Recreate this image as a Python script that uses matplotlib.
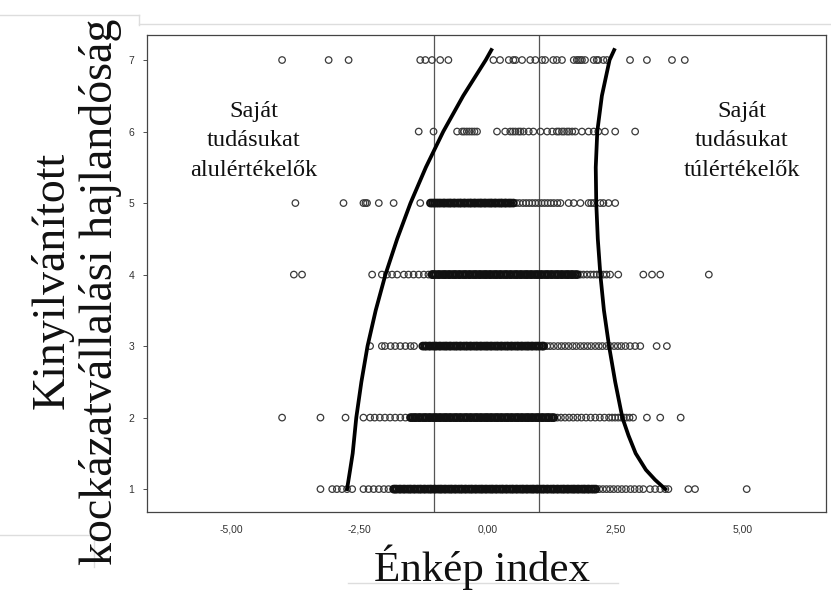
import numpy as np
import matplotlib
matplotlib.use("Agg")
import matplotlib.pyplot as plt
from matplotlib.lines import Line2D

# risk-taking level (y) vs self-image index (x), one list of cases per level
levels = [1, 2, 3, 4, 5, 6, 7]

row1 = [-3.26, -3.03, -2.94, -2.84, -2.74, -2.64, -2.42, -2.32, -2.22, -2.12, -2.02, -1.93, -1.83,
        -1.80, -1.77, -1.72, -1.69, -1.64, -1.61, -1.56, -1.52, -1.49, -1.44, -1.41, -1.36,
        -1.32, -1.29, -1.24, -1.21, -1.16, -1.12, -1.09, -1.04, -1.01, -0.96, -0.92, -0.89,
        -0.84, -0.81, -0.76, -0.72, -0.69, -0.64, -0.61, -0.56, -0.52, -0.49, -0.44, -0.41,
        -0.36, -0.32, -0.29, -0.24, -0.21, -0.16, -0.12, -0.09, -0.04, -0.01, 0.04, 0.08, 0.11,
        0.16, 0.19, 0.24, 0.28, 0.31, 0.36, 0.39, 0.44, 0.48, 0.51, 0.56, 0.59, 0.64, 0.68,
        0.71, 0.76, 0.79, 0.84, 0.88, 0.91, 0.96, 0.99, 1.04, 1.08, 1.11, 1.16, 1.19, 1.24,
        1.28, 1.31, 1.36, 1.39, 1.44, 1.48, 1.51, 1.56, 1.59, 1.64, 1.68, 1.71, 1.76, 1.79,
        1.84, 1.88, 1.91, 1.96, 1.99, 2.04, 2.08, 2.12,
        2.19, 2.26, 2.33, 2.40, 2.47, 2.55, 2.63, 2.71, 2.80, 2.88, 2.97, 3.05,
        3.18, 3.28, 3.38, 3.48, 3.54, 3.93, 4.06, 5.07]

row2 = [-4.01, -3.26, -2.77, -2.42, -2.29, -2.20, -2.10, -2.00, -1.90, -1.80, -1.70, -1.60, -1.50,
        -1.46, -1.42, -1.39, -1.34, -1.31, -1.26, -1.22, -1.19, -1.14, -1.11, -1.06, -1.02,
        -0.99, -0.94, -0.91, -0.86, -0.82, -0.79, -0.74, -0.71, -0.66, -0.62, -0.59, -0.54,
        -0.51, -0.46, -0.42, -0.39, -0.34, -0.31, -0.26, -0.22, -0.19, -0.14, -0.11, -0.06,
        -0.02, 0.01, 0.06, 0.09, 0.14, 0.18, 0.21, 0.26, 0.29, 0.34, 0.38, 0.41, 0.46, 0.49,
        0.54, 0.58, 0.61, 0.66, 0.69, 0.74, 0.78, 0.81, 0.86, 0.89, 0.94, 0.98, 1.01, 1.06,
        1.09, 1.14, 1.18, 1.21, 1.26, 1.30,
        1.37, 1.44, 1.52, 1.60, 1.68, 1.76, 1.84, 1.93, 2.02, 2.11, 2.20, 2.29, 2.38, 2.44,
        2.50, 2.56, 2.62, 2.67, 2.72, 2.78, 2.85, 3.12, 3.38, 3.78]

row3 = [-2.29, -2.06, -2.00, -1.89, -1.80, -1.70, -1.60, -1.50, -1.43,
        -1.26, -1.22, -1.19, -1.14, -1.11, -1.06, -1.02, -0.99, -0.94, -0.91, -0.86, -0.82,
        -0.79, -0.74, -0.71, -0.66, -0.62, -0.59, -0.54, -0.51, -0.46, -0.42, -0.39, -0.34,
        -0.31, -0.26, -0.22, -0.19, -0.14, -0.11, -0.06, -0.02, 0.01, 0.06, 0.09, 0.14, 0.18,
        0.21, 0.26, 0.29, 0.34, 0.38, 0.41, 0.46, 0.49, 0.54, 0.58, 0.61, 0.66, 0.69, 0.74,
        0.78, 0.81, 0.86, 0.89, 0.94, 0.98, 1.02, 1.07, 1.10,
        1.17, 1.23, 1.30, 1.38, 1.45, 1.52, 1.59, 1.67, 1.74, 1.82, 1.89, 1.96, 2.03, 2.11,
        2.18, 2.25, 2.33, 2.40, 2.48, 2.55, 2.62, 2.70, 2.79, 2.89, 2.99, 3.31, 3.51]

row4 = [-3.78, -3.62, -2.25, -2.06, -1.96, -1.86, -1.76, -1.63, -1.54, -1.44, -1.34, -1.24, -1.15,
        -1.08, -1.05, -1.01, -0.96, -0.93, -0.88, -0.84, -0.81, -0.76, -0.73, -0.68, -0.64,
        -0.61, -0.56, -0.53, -0.48, -0.44, -0.41, -0.36, -0.33, -0.28, -0.24, -0.21, -0.16,
        -0.13, -0.08, -0.04, -0.01, 0.04, 0.07, 0.12, 0.16, 0.19, 0.24, 0.27, 0.32, 0.36, 0.39,
        0.44, 0.47, 0.52, 0.56, 0.59, 0.64, 0.67, 0.72, 0.76, 0.79, 0.84, 0.87, 0.92, 0.96,
        0.99, 1.04, 1.07, 1.12, 1.16, 1.19, 1.24, 1.27, 1.32, 1.36, 1.39, 1.44, 1.47, 1.52,
        1.56, 1.59, 1.64, 1.67, 1.72, 1.76,
        1.82, 1.88, 1.95, 2.02, 2.08, 2.14, 2.20, 2.27, 2.33, 2.40,
        2.56, 3.05, 3.22, 3.38, 4.33]

row5 = [-3.75, -2.81, -2.42, -2.38, -2.35, -2.12, -1.83, -1.31,
        -1.11, -1.07, -1.03, -0.99, -0.95, -0.91, -0.86, -0.83, -0.78, -0.74, -0.71, -0.66,
        -0.63, -0.58, -0.54, -0.51, -0.46, -0.43, -0.38, -0.34, -0.31, -0.26, -0.23, -0.18,
        -0.14, -0.11, -0.06, -0.03, 0.02, 0.06, 0.09, 0.14, 0.17, 0.22, 0.26, 0.29, 0.34, 0.37,
        0.42, 0.46, 0.51,
        0.57, 0.63, 0.70, 0.76, 0.82, 0.88, 0.94, 1.00, 1.06, 1.12, 1.18, 1.24, 1.30, 1.37, 1.43,
        1.59, 1.69, 1.82, 1.98, 2.03, 2.08, 2.21, 2.27, 2.37, 2.50]

row6 = [-1.34, -1.05, -0.59, -0.49, -0.45, -0.40, -0.35, -0.30, -0.25, -0.20, 0.19, 0.35, 0.45,
        0.50, 0.55, 0.61, 0.65, 0.71, 0.81, 0.90, 1.04, 1.17, 1.27, 1.36, 1.40, 1.46, 1.50, 1.56,
        1.60, 1.66, 1.72, 1.85, 1.98, 2.08, 2.17, 2.30, 2.50, 2.89]

row7 = [-4.01, -3.10, -2.71, -1.31, -1.21, -1.08, -0.92, -0.76, 0.12, 0.25, 0.42, 0.51, 0.55,
        0.68, 0.84, 0.94, 1.07, 1.13, 1.29, 1.36, 1.46, 1.69, 1.75, 1.78, 1.82, 1.85, 1.91, 2.08,
        2.14, 2.17, 2.27, 2.34, 2.79, 3.12, 3.61, 3.86]

rows = [row1, row2, row3, row4, row5, row6, row7]

# fitted boundary curves (x, y)
left_curve_x = [-2.74, -2.68, -2.63, -2.56, -2.46, -2.34, -2.18, -1.99, -1.76, -1.50, -1.20,
                -0.86, -0.47, -0.03, 0.08]
left_curve_y = [1.00, 1.27, 1.50, 2.00, 2.50, 3.00, 3.50, 4.00, 4.50, 5.00, 5.50,
                6.00, 6.50, 7.00, 7.14]
right_curve_x = [3.48, 3.28, 3.10, 2.90, 2.76, 2.64, 2.50, 2.38, 2.28, 2.21, 2.16, 2.13, 2.12,
                 2.15, 2.24, 2.39, 2.48]
right_curve_y = [1.00, 1.13, 1.27, 1.50, 1.75, 2.00, 2.50, 3.00, 3.50, 4.00, 4.50, 5.00, 5.50,
                 6.00, 6.50, 7.00, 7.14]

cutoffs = [-1.05, 1.02]
xticks = [-5.0, -2.5, 0.0, 2.5, 5.0]
xtick_labels = ["-5,00", "-2,50", "0,00", "2,50", "5,00"]

W, H = 831, 591
fig = plt.figure(figsize=(W / 100, H / 100), dpi=100)
fig.patch.set_facecolor("white")


def fx(px):
    return px / W


def fy(py):
    return 1 - py / H


ax = fig.add_axes([fx(147), fy(512), (826 - 147) / W, (512 - 35) / H])

for lev, xs in zip(levels, rows):
    xs = np.sort(np.asarray(xs))
    # long unbroken runs of piled-up cases merge into a solid dark band
    run_id = np.r_[0, np.cumsum(np.diff(xs) >= 0.055)]
    run_len = np.bincount(run_id)[run_id]
    crowded = run_len >= 10
    ax.scatter(xs[~crowded], np.full((~crowded).sum(), lev), s=22, facecolors="none",
               edgecolors="#3a3a3a", linewidths=0.9, zorder=2)
    ax.scatter(xs[crowded], np.full(crowded.sum(), lev), s=22, facecolors="none",
               edgecolors="#111111", linewidths=1.6, zorder=2)

for c in cutoffs:
    ax.axvline(c, color="#555555", lw=0.9, zorder=1)

ax.plot(left_curve_x, left_curve_y, color="black", lw=2.7, zorder=3,
        solid_joinstyle="round")
ax.plot(right_curve_x, right_curve_y, color="black", lw=2.7, zorder=3,
        solid_joinstyle="round")

ax.set_xlim(-6.65, 6.62)
ax.set_ylim(0.68, 7.35)
ax.set_xticks(xticks)
ax.set_xticklabels(xtick_labels)
ax.set_yticks(levels)
ax.set_yticklabels([str(v) for v in levels])
ax.tick_params(axis="both", labelsize=7.5, colors="#333333", length=3, width=0.6, pad=6)
ax.tick_params(axis="x", length=0, pad=9)
for lab in ax.get_xticklabels() + ax.get_yticklabels():
    lab.set_family("Liberation Sans")
for sp in ax.spines.values():
    sp.set_color("#444444")
    sp.set_linewidth(0.9)

serif = "Liberation Serif"

# side notes
for cx, lines in [(254, ["Saját", "tudásukat", "alulértékelők"]),
                  (742, ["Saját", "tudásukat", "túlértékelők"])]:
    for py, s in zip([111, 140, 171], lines):
        fig.text(fx(cx), fy(py), s, family=serif, fontsize=17.5,
                 ha="center", va="center", color="#111111")

# axis titles
fig.text(fx(482), fy(567), "Énkép index", family=serif, fontsize=31,
         ha="center", va="center", color="#111111")
fig.text(fx(52), fy(280), "Kinyilvánított", family=serif, fontsize=33,
         rotation=90, ha="center", va="center", color="#111111")
fig.text(fx(101), fy(292), "kockázatvállalási hajlandóság", family=serif, fontsize=33,
         rotation=90, ha="center", va="center", color="#111111")

# faint text-box borders around the chart
edge = dict(color="#dddddd", lw=1.0, transform=fig.transFigure)
fig.add_artist(Line2D([fx(0), fx(139)], [fy(15), fy(15)], **edge))
fig.add_artist(Line2D([fx(139), fx(139)], [fy(15), fy(25)], **edge))
fig.add_artist(Line2D([fx(139), fx(831)], [fy(24), fy(24)], **edge))
fig.add_artist(Line2D([fx(0), fx(94)], [fy(535), fy(535)], **edge))
fig.add_artist(Line2D([fx(94), fx(94)], [fy(535), fy(567)], **edge))
fig.add_artist(Line2D([fx(348), fx(618)], [fy(583), fy(583)], **edge))

fig.savefig("out.png", dpi=100, facecolor="white")
